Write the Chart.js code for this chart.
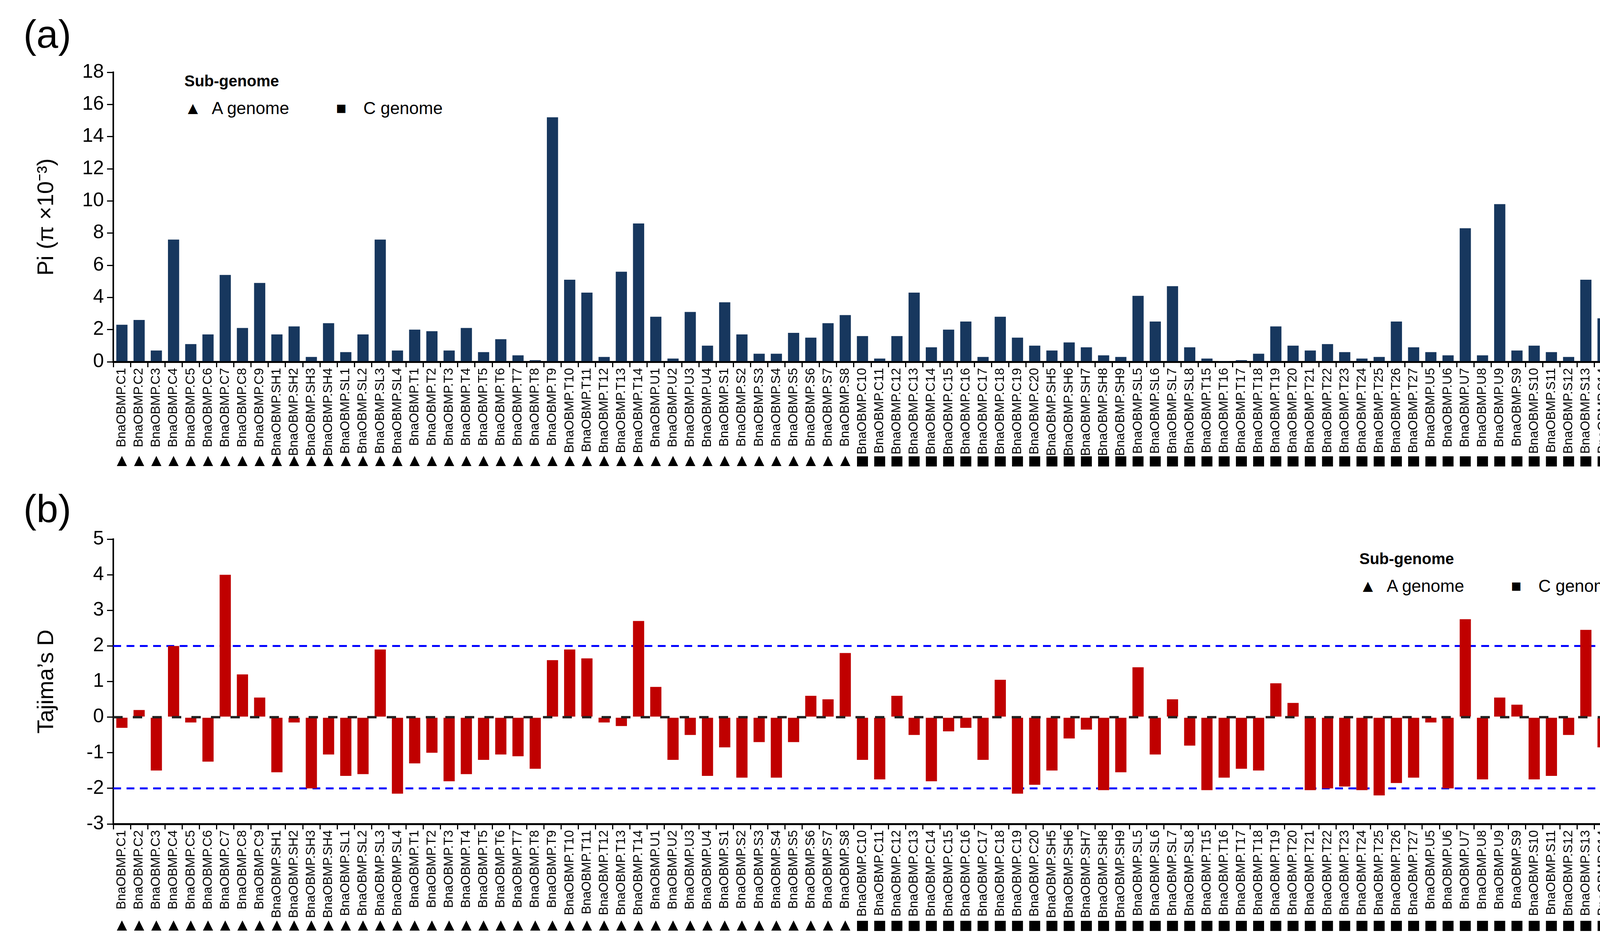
<!DOCTYPE html>
<html>
<head>
<meta charset="utf-8">
<script src="https://cdn.jsdelivr.net/npm/chart.js@4"></script>
<style>
  body { margin: 0; background: #fff; width: 4216px; height: 2424px; position: relative; overflow: hidden; font-family: "Liberation Sans", Arial, sans-serif; }
  canvas { position: absolute; left: 0; }
  .lbl { position: absolute; font-size: 100px; color: #000; }
  .leg { position: absolute; font-size: 44px; color: #000; white-space: nowrap; }
  .leg b { display: block; font-size: 40px; margin-bottom: 22px; }
  .sym { display: inline-block; width: 70px; }
</style>
</head>
<body>
<div class="lbl" style="left:60px;top:30px">(a)</div>
<div class="lbl" style="left:60px;top:1245px">(b)</div>
<div class="leg" style="left:472px;top:185px"><b>Sub-genome</b><span class="sym">▲</span>A genome<span style="display:inline-block;width:120px"></span><span class="sym">■</span>C genome</div>
<div class="leg" style="left:3480px;top:1408px"><b>Sub-genome</b><span class="sym">▲</span>A genome<span style="display:inline-block;width:120px"></span><span class="sym">■</span>C genome</div>
<canvas id="piChart" style="top:0"></canvas>
<canvas id="tdChart" style="top:1230px"></canvas>
<script>
const genes = ['C1','C2','C3','C4','C5','C6','C7','C8','C9','SH1','SH2','SH3','SH4','SL1','SL2','SL3','SL4',
  'T1','T2','T3','T4','T5','T6','T7','T8','T9','T10','T11','T12','T13','T14','U1','U2','U3','U4',
  'S1','S2','S3','S4','S5','S6','S7','S8',
  'C10','C11','C12','C13','C14','C15','C16','C17','C18','C19','C20','SH5','SH6','SH7','SH8','SH9',
  'SL5','SL6','SL7','SL8','T15','T16','T17','T18','T19','T20','T21','T22','T23','T24','T25','T26','T27',
  'U5','U6','U7','U8','U9','S9','S10','S11','S12','S13','S14','S15'];
const labels = genes.map(g => 'BnaOBMP.' + g);
// sub-genome of each gene: first 43 on A, rest on C
const genome = genes.map((g, i) => i < 43 ? 'A' : 'C');

const piValues = [2.3,2.6,0.7,7.6,1.1,1.7,5.4,2.1,4.9,1.7,2.2,0.3,2.4,0.6,1.7,7.6,0.7,
  2.0,1.9,0.7,2.1,0.6,1.4,0.4,0.1,15.2,5.1,4.3,0.3,5.6,8.6,2.8,0.2,3.1,1.0,
  3.7,1.7,0.5,0.5,1.8,1.5,2.4,2.9,
  1.6,0.2,1.6,4.3,0.9,2.0,2.5,0.3,2.8,1.5,1.0,0.7,1.2,0.9,0.4,0.3,
  4.1,2.5,4.7,0.9,0.2,0.02,0.1,0.5,2.2,1.0,0.7,1.1,0.6,0.2,0.3,2.5,0.9,
  0.6,0.4,8.3,0.4,9.8,0.7,1.0,0.6,0.3,5.1,2.7,0.4];
const tajimaD = [-0.3,0.2,-1.5,2.0,-0.15,-1.25,4.0,1.2,0.55,-1.55,-0.15,-2.0,-1.05,-1.65,-1.6,1.9,-2.15,
  -1.3,-1.0,-1.8,-1.6,-1.2,-1.05,-1.1,-1.45,1.6,1.9,1.65,-0.15,-0.25,2.7,0.85,-1.2,-0.5,-1.65,
  -0.85,-1.7,-0.7,-1.7,-0.7,0.6,0.5,1.8,
  -1.2,-1.75,0.6,-0.5,-1.8,-0.4,-0.3,-1.2,1.05,-2.15,-1.9,-1.5,-0.6,-0.35,-2.05,-1.55,
  1.4,-1.05,0.5,-0.8,-2.05,-1.7,-1.45,-1.5,0.95,0.4,-2.05,-2.0,-1.95,-2.05,-2.2,-1.85,-1.7,
  -0.15,-2.0,2.75,-1.75,0.55,0.35,-1.75,-1.65,-0.5,2.45,-0.85,-1.7];
const piTicks = [0,2,4,6,8,10,12,14,16,18];
const tdTicks = [-3,-2,-1,0,1,2,3,4,5];
const tdRefLines = [2, -2];

const tickFont = { family: '"Liberation Sans Narrow", "Liberation Sans", Arial, sans-serif', size: 50 };
const labelFont = { family: '"Liberation Sans", Arial, sans-serif', size: 33 };

// draws ▲/■ under each category label
const genomeMarks = {
  id: 'genomeMarks',
  afterDraw(chart, args, opts) {
    const ctx = chart.ctx, x = chart.scales.x;
    const y = chart.chartArea.bottom + opts.offset;
    ctx.save();
    ctx.fillStyle = '#000';
    genome.forEach((g, i) => {
      const px = x.getPixelForValue(i);
      ctx.beginPath();
      if (g === 'A') {
        ctx.moveTo(px, y - 14); ctx.lineTo(px + 13, y + 12); ctx.lineTo(px - 13, y + 12);
      } else {
        ctx.rect(px - 14, y - 13, 28, 26);
      }
      ctx.fill();
    });
    ctx.restore();
  }
};

// dashed reference lines for Tajima's D
const refLines = {
  id: 'refLines',
  beforeDatasetsDraw(chart) {
    const ctx = chart.ctx, y = chart.scales.y, a = chart.chartArea;
    ctx.save();
    ctx.lineWidth = 5;
    ctx.setLineDash([20, 14]);
    ctx.strokeStyle = '#0000ff';
    tdRefLines.forEach(v => {
      ctx.beginPath(); ctx.moveTo(a.left, y.getPixelForValue(v)); ctx.lineTo(a.right, y.getPixelForValue(v)); ctx.stroke();
    });
    ctx.restore();
  },
  afterDatasetsDraw(chart) {
    const ctx = chart.ctx, y = chart.scales.y, a = chart.chartArea;
    ctx.save();
    ctx.lineWidth = 6;
    ctx.setLineDash([24, 26]);
    ctx.strokeStyle = '#222';
    ctx.beginPath(); ctx.moveTo(a.left, y.getPixelForValue(0)); ctx.lineTo(a.right, y.getPixelForValue(0)); ctx.stroke();
    ctx.restore();
  }
};

function makeChart(id, h, data, color, ticks, title, pad, xHeight, markOffset) {
  const canvas = document.getElementById(id);
  canvas.width = 4216; canvas.height = h;
  canvas.style.width = '4216px'; canvas.style.height = h + 'px';
  return new Chart(canvas.getContext('2d'), {
    type: 'bar',
    data: { labels: labels, datasets: [{ data: data, backgroundColor: color, barPercentage: 0.65, categoryPercentage: 1 }] },
    plugins: id === 'tdChart' ? [refLines, genomeMarks] : [genomeMarks],
    options: {
      responsive: false, animation: false, devicePixelRatio: 1,
      layout: { padding: { left: 85, right: 46, top: pad, bottom: 0 } },
      plugins: { legend: { display: false }, tooltip: { enabled: false }, genomeMarks: { offset: markOffset } },
      scales: {
        x: {
          afterFit: s => { s.height = xHeight; },
          grid: { display: true, drawOnChartArea: false, offset: true, color: '#000', lineWidth: 3, tickLength: 14 },
          border: { display: true, color: '#000', width: 5 },
          ticks: { autoSkip: false, maxRotation: 90, minRotation: 90, color: '#000', font: labelFont, padding: 2 }
        },
        y: {
          min: ticks[0], max: ticks[ticks.length - 1],
          afterBuildTicks: s => { s.ticks = ticks.map(v => ({ value: v })); },
          afterFit: s => { s.width = 205; },
          grid: { display: true, drawOnChartArea: false, color: '#000', lineWidth: 3, tickLength: 16 },
          border: { display: true, color: '#000', width: 4 },
          ticks: { color: '#000', font: tickFont, padding: 8 },
          title: { display: true, text: title, color: '#000', font: { family: '"Liberation Sans", Arial, sans-serif', size: 58 }, padding: 0 }
        }
      }
    }
  });
}

makeChart('piChart', 1215, piValues, '#17375e', piTicks, 'Pi (π ×10\u207B\u00B3)', 185, 289, 255);
makeChart('tdChart', 1194, tajimaD, '#c00000', tdTicks, 'Tajima’s D', 150, 315, 261);
</script>
</body>
</html>
